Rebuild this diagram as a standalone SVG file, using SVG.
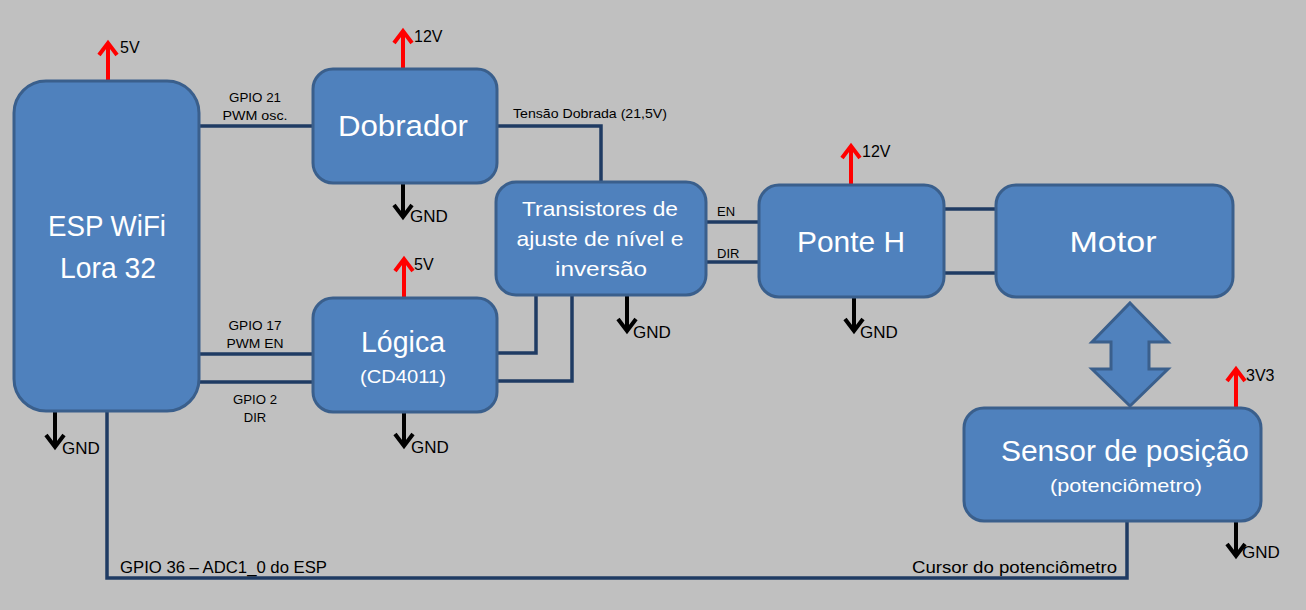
<svg xmlns="http://www.w3.org/2000/svg" width="1306" height="610" viewBox="0 0 1306 610">
<defs>
<style>
.box{fill:#4F81BD;stroke:#3A5F8C;stroke-width:3}
.wire{fill:none;stroke:#1F3B63;stroke-width:3.5}
.pw{fill:none;stroke:#FF0000;stroke-width:4}
.gnd{fill:none;stroke:#000;stroke-width:4}
.big{font-family:"Liberation Sans",Arial,sans-serif;font-size:29px;fill:#fff;text-anchor:middle}
.mid{font-family:"Liberation Sans",Arial,sans-serif;font-size:21px;fill:#fff;text-anchor:middle}
.sub{font-family:"Liberation Sans",Arial,sans-serif;font-size:19px;fill:#fff;text-anchor:middle}
.lbl{font-family:"Liberation Sans",Arial,sans-serif;font-size:13px;fill:#000}
.ctr{text-anchor:middle}
.v{font-family:"Liberation Sans",Arial,sans-serif;font-size:16px;fill:#000}
.g{font-family:"Liberation Sans",Arial,sans-serif;font-size:17px;fill:#000}
</style>
<marker id="mr" markerUnits="userSpaceOnUse" markerWidth="20" markerHeight="24" viewBox="0 0 20 24" refX="15" refY="12" orient="auto">
<path d="M3,3 L15,12 L3,21" fill="none" stroke="#FF0000" stroke-width="4"/>
</marker>
<marker id="mb" markerUnits="userSpaceOnUse" markerWidth="20" markerHeight="24" viewBox="0 0 20 24" refX="15" refY="12" orient="auto">
<path d="M3,3 L15,12 L3,21" fill="none" stroke="#000" stroke-width="4"/>
</marker>
</defs>
<rect width="1306" height="610" fill="#C0C0C0"/>

<g id="connectors">
<path class="wire" d="M199,126 H313"/>
<path class="wire" d="M497,126 H601 V182"/>
<path class="wire" d="M199,354 H313"/>
<path class="wire" d="M199,382 H313"/>
<path class="wire" d="M497,353 H536 V295"/>
<path class="wire" d="M497,381 H572 V295"/>
<path class="wire" d="M706,222 H759"/>
<path class="wire" d="M706,262 H759"/>
<path class="wire" d="M944,209 H996"/>
<path class="wire" d="M944,273 H996"/>
<path class="wire" d="M1127,521 V578 H107 V411"/>
<text class="lbl ctr" x="255" y="102" textLength="52" lengthAdjust="spacingAndGlyphs">GPIO 21</text>
<text class="lbl ctr" x="255" y="120" textLength="65" lengthAdjust="spacingAndGlyphs">PWM osc.</text>
<text class="lbl" x="513" y="118" textLength="154" lengthAdjust="spacingAndGlyphs">Tensão Dobrada (21,5V)</text>
<text class="lbl ctr" x="255" y="330" textLength="53" lengthAdjust="spacingAndGlyphs">GPIO 17</text>
<text class="lbl ctr" x="255" y="348" textLength="57" lengthAdjust="spacingAndGlyphs">PWM EN</text>
<text class="lbl ctr" x="255" y="404" textLength="44" lengthAdjust="spacingAndGlyphs">GPIO 2</text>
<text class="lbl ctr" x="255" y="422">DIR</text>
<text class="lbl" x="717" y="216">EN</text>
<text class="lbl" x="717" y="258">DIR</text>
<text class="g" x="120" y="573" textLength="207" lengthAdjust="spacingAndGlyphs">GPIO 36 – ADC1_0 do ESP</text>
<text class="g" x="912" y="573" textLength="205" lengthAdjust="spacingAndGlyphs">Cursor do potenciômetro</text>
</g>

<g id="power">
<path class="pw" d="M108,81 V43" marker-end="url(#mr)"/>
<text class="v" x="120" y="53">5V</text>
<path class="pw" d="M403,69 V31" marker-end="url(#mr)"/>
<text class="v" x="414" y="42">12V</text>
<path class="pw" d="M404,298 V259" marker-end="url(#mr)"/>
<text class="v" x="414" y="270">5V</text>
<path class="pw" d="M851,185 V146" marker-end="url(#mr)"/>
<text class="v" x="862" y="157">12V</text>
<path class="pw" d="M1236,408 V369" marker-end="url(#mr)"/>
<text class="v" x="1246" y="381">3V3</text>
<path class="gnd" d="M55,412 V447" marker-end="url(#mb)"/>
<text class="g" x="62" y="454">GND</text>
<path class="gnd" d="M403,183 V217" marker-end="url(#mb)"/>
<text class="g" x="410" y="222">GND</text>
<path class="gnd" d="M404,413 V446" marker-end="url(#mb)"/>
<text class="g" x="411" y="453">GND</text>
<path class="gnd" d="M627,296 V331" marker-end="url(#mb)"/>
<text class="g" x="633" y="338">GND</text>
<path class="gnd" d="M854,298 V331" marker-end="url(#mb)"/>
<text class="g" x="860" y="338">GND</text>
<path class="gnd" d="M1236,522 V556" marker-end="url(#mb)"/>
<text class="g" x="1242" y="558">GND</text>
</g>

<g id="esp">
<rect class="box" x="14" y="81" width="185" height="330" rx="32"/>
<text class="big" x="107" y="236" textLength="118" lengthAdjust="spacingAndGlyphs">ESP WiFi</text>
<text class="big" x="108" y="278" textLength="96" lengthAdjust="spacingAndGlyphs">Lora 32</text>
</g>
<g id="dobrador">
<rect class="box" x="313" y="69" width="184" height="114" rx="20"/>
<text class="big" x="403" y="136" textLength="130" lengthAdjust="spacingAndGlyphs">Dobrador</text>
</g>
<g id="logica">
<rect class="box" x="313" y="298" width="184" height="114" rx="20"/>
<text class="big" x="403" y="352" textLength="84" lengthAdjust="spacingAndGlyphs">Lógica</text>
<text class="sub" x="403" y="383" textLength="86" lengthAdjust="spacingAndGlyphs">(CD4011)</text>
</g>
<g id="transistores">
<rect class="box" x="496" y="182" width="210" height="113" rx="20"/>
<text class="mid" x="600" y="216" textLength="156" lengthAdjust="spacingAndGlyphs">Transistores de</text>
<text class="mid" x="600" y="246" textLength="167" lengthAdjust="spacingAndGlyphs">ajuste de nível e</text>
<text class="mid" x="601" y="276" textLength="92" lengthAdjust="spacingAndGlyphs">inversão</text>
</g>
<g id="ponteh">
<rect class="box" x="759" y="185" width="185" height="112" rx="20"/>
<text class="big" x="851" y="252" textLength="108" lengthAdjust="spacingAndGlyphs">Ponte H</text>
</g>
<g id="motor">
<rect class="box" x="996" y="185" width="237" height="112" rx="20"/>
<text class="big" x="1113" y="252" textLength="87" lengthAdjust="spacingAndGlyphs">Motor</text>
</g>
<g id="link">
<path class="box" d="M1130,303 L1168,342 H1149 V369 H1168 L1130,406 L1092,369 H1111 V342 H1092 Z" stroke-width="2.5"/>
</g>
<g id="sensor">
<rect class="box" x="964" y="408" width="297" height="113" rx="20"/>
<text class="big" x="1125" y="461" textLength="248" lengthAdjust="spacingAndGlyphs">Sensor de posição</text>
<text class="sub" x="1126" y="492" textLength="152" lengthAdjust="spacingAndGlyphs">(potenciômetro)</text>
</g>
</svg>
